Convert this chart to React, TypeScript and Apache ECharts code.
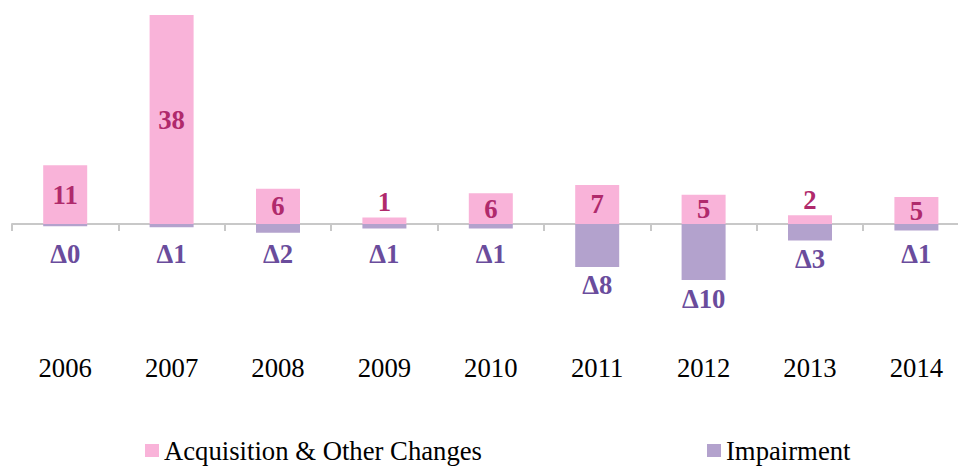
import React, { useEffect, useRef } from "react";
import * as echarts from "echarts";

const years = ["2006", "2007", "2008", "2009", "2010", "2011", "2012", "2013", "2014"];
const acquisition = [10.7, 38, 6.4, 1.2, 5.6, 7.1, 5.3, 1.6, 4.9];
const impairment = [-0.4, -0.6, -1.6, -0.8, -0.8, -7.8, -10.2, -3.0, -1.2];

const FONT = "'Liberation Serif', 'Times New Roman', serif";
const PINK = "#f9b3d9";
const PURPLE = "#b3a2cd";

export default function App() {
  const ref = useRef<HTMLDivElement>(null);
  useEffect(() => {
    if (!ref.current) return;
    const chart = echarts.init(ref.current, undefined, { renderer: "svg" });
    const option: any = {
      animation: false,
      backgroundColor: "#ffffff",
      grid: {
        left: 12,
        width: 957.6,
        top: 4,
        height: 330,
        containLabel: false,
        outerBoundsMode: "none",
      },
      legend: {
        left: 145,
        top: 437,
        padding: 0,
        itemWidth: 14,
        itemHeight: 13,
        itemGap: 225,
        icon: "rect",
        textStyle: { fontFamily: FONT, fontSize: 26.7, color: "#000" },
        data: ["Acquisition & Other Changes", "Impairment"],
      },
      xAxis: [
        {
          type: "category",
          data: years,
          axisLine: { onZero: true, lineStyle: { color: "#c8c8c8", width: 2 } },
          axisTick: { show: true, alignWithLabel: false, length: 7, lineStyle: { color: "#c8c8c8", width: 2 } },
          axisLabel: { show: false },
          splitLine: { show: false },
        },
        {
          type: "category",
          data: years,
          position: "bottom",
          axisLine: { show: false, onZero: false },
          axisTick: { show: false },
          axisLabel: { fontFamily: FONT, fontSize: 26.7, color: "#000", margin: 20 },
          splitLine: { show: false },
        },
      ],
      yAxis: {
        type: "value",
        min: -20,
        max: 40,
        show: false,
        splitLine: { show: false },
      },
      series: [
        {
          name: "Acquisition & Other Changes",
          type: "bar",
          stack: "a",
          xAxisIndex: 0,
          barWidth: 44,
          itemStyle: { color: PINK },
          data: acquisition.map((v) => ({
            value: v,
            label: {
              show: true,
              position: v >= 3 ? "inside" : "top",
              distance: 2,
              formatter: () => String(Math.round(v)),
              fontFamily: FONT,
              fontSize: 26.7,
              fontWeight: "bold",
              color: "#b02a6c",
            },
          })),
        },
        {
          name: "Impairment",
          type: "bar",
          stack: "a",
          xAxisIndex: 0,
          barWidth: 44,
          itemStyle: { color: PURPLE },
          data: impairment.map((v) => ({
            value: v,
            label: {
              show: true,
              position: "bottom",
              distance: Math.max(5, 16 + v * 5.5),
              formatter: () => "Δ" + Math.round(Math.abs(v)),
              fontFamily: FONT,
              fontSize: 26.7,
              fontWeight: "bold",
              color: "#6a4c9c",
            },
          })),
        },
      ],
    };
    chart.setOption(option);
    return () => chart.dispose();
  }, []);
  return (
    <div
      ref={ref}
      style={{ position: "absolute", left: 0, top: 0, width: 958, height: 466, background: "#fff" }}
    />
  );
}
